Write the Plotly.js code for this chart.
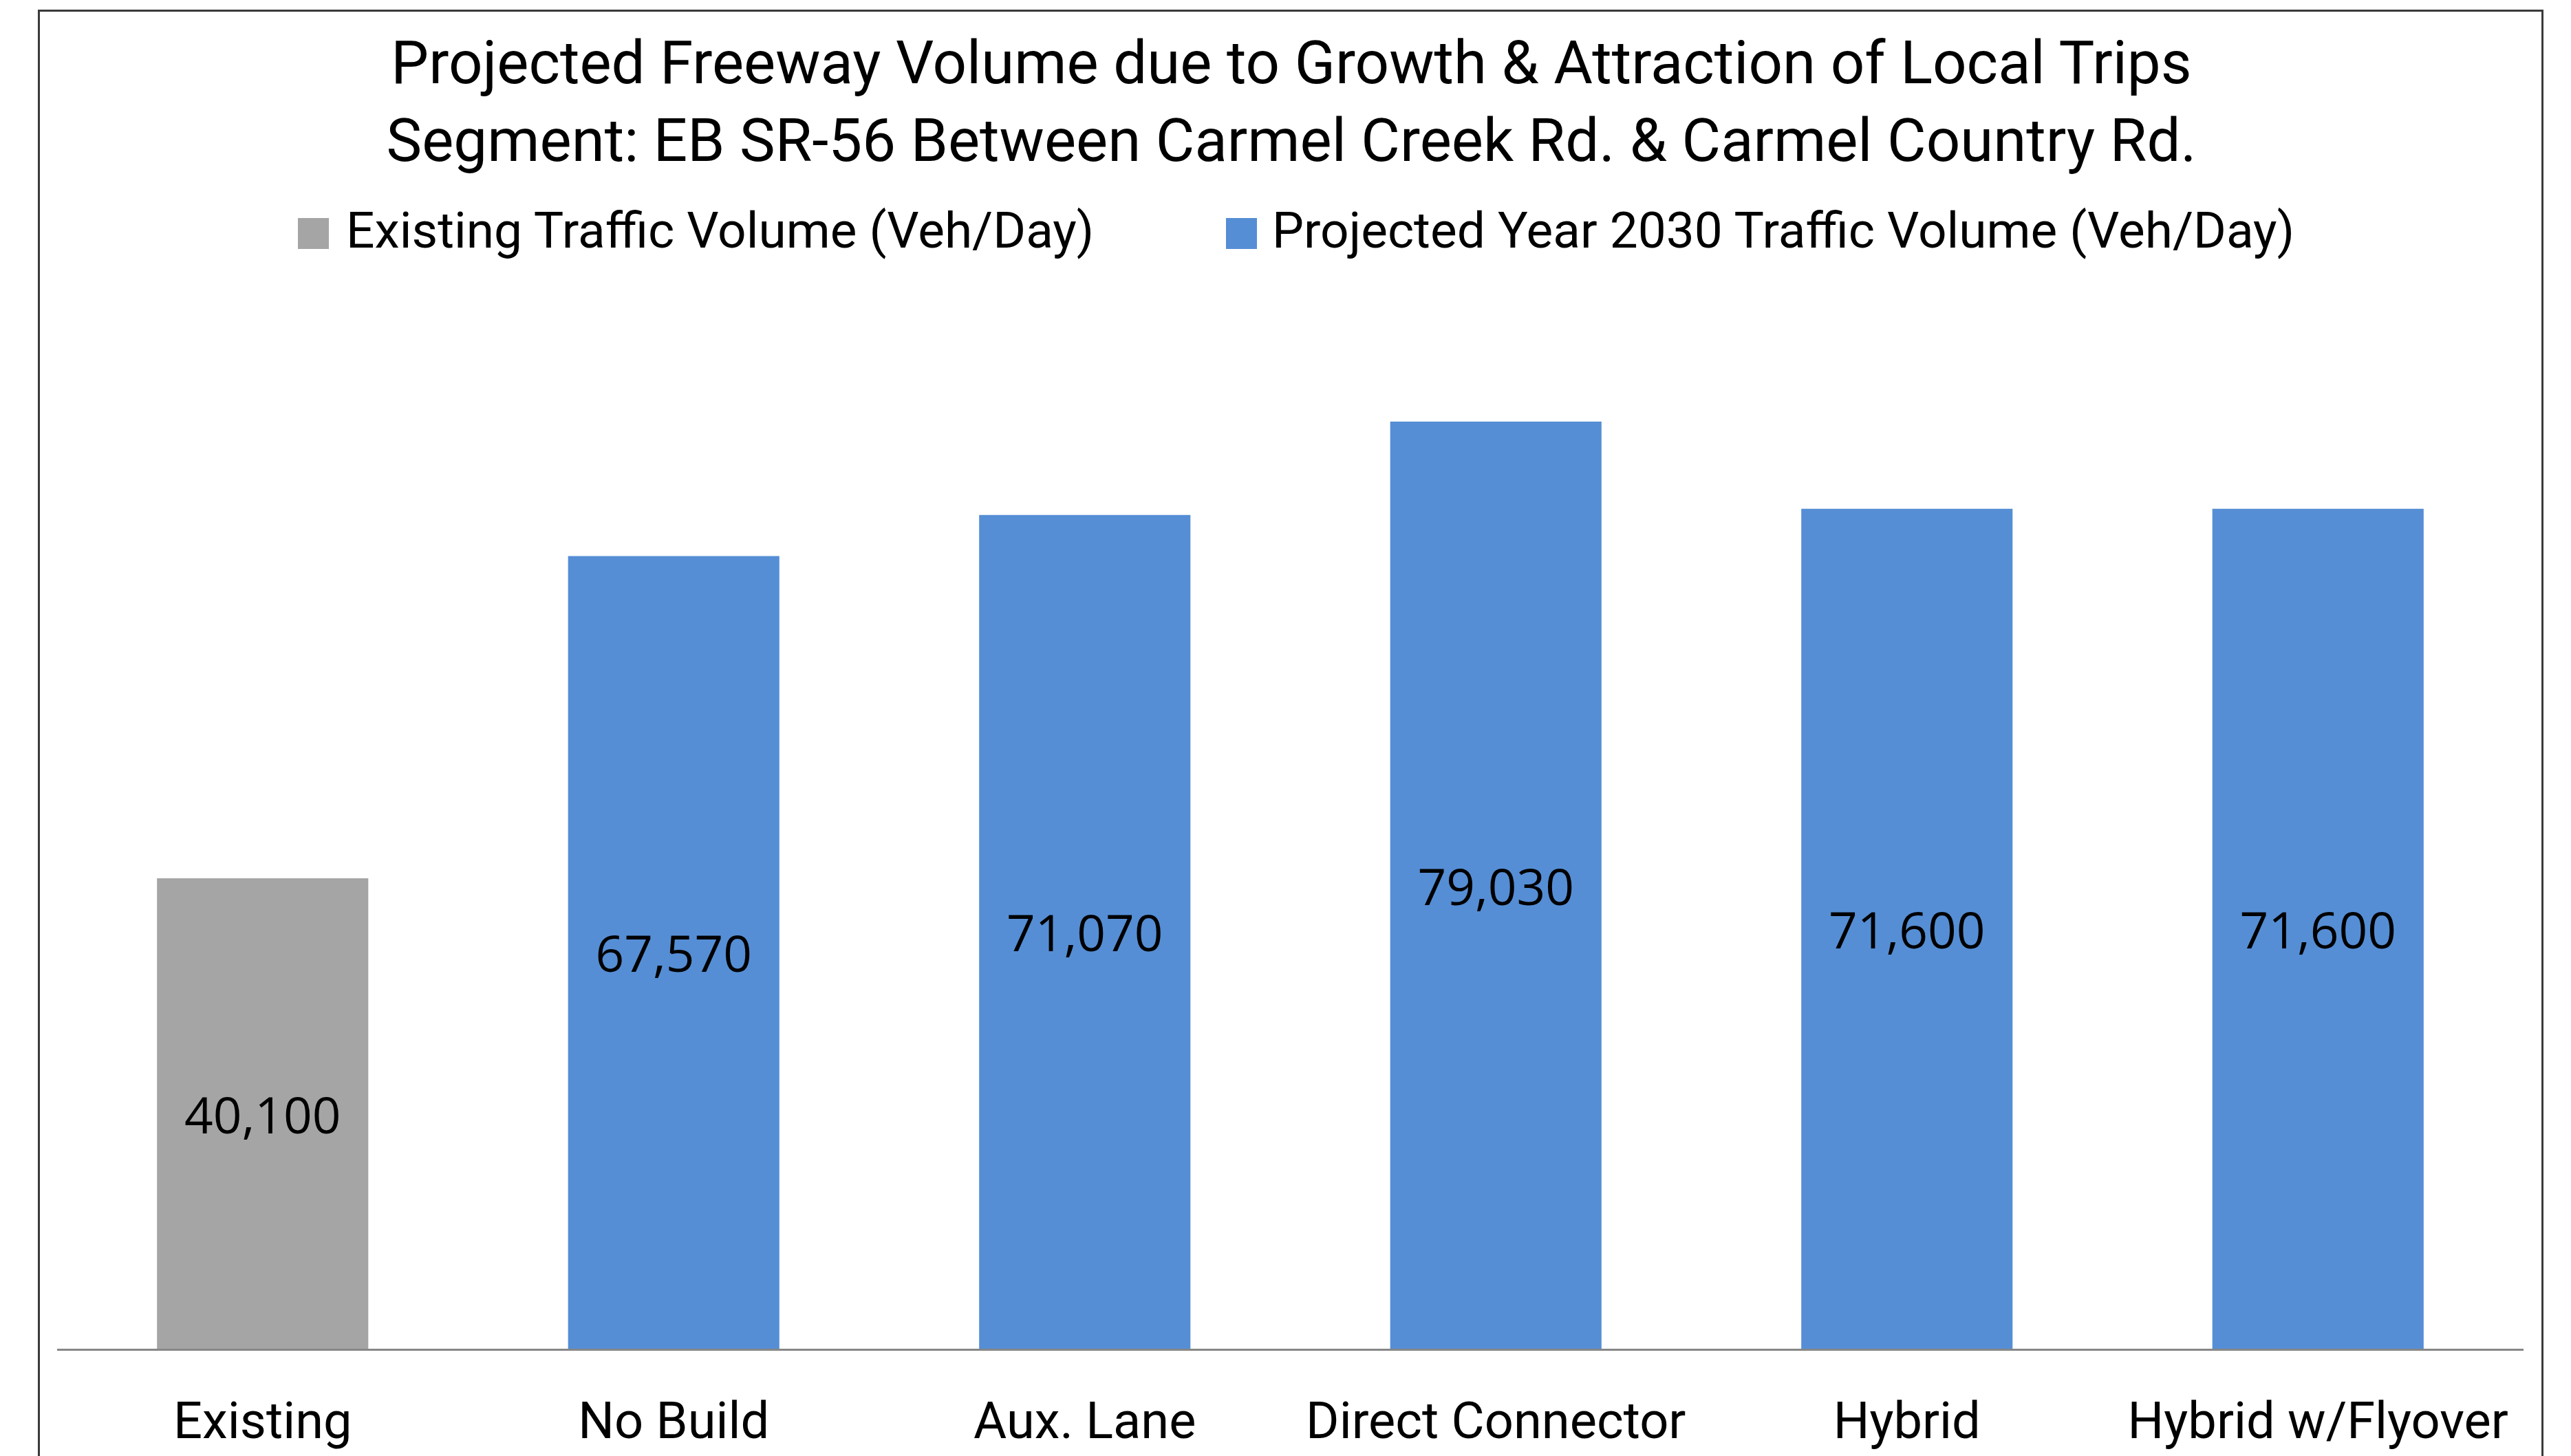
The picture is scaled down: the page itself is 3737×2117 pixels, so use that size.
<!DOCTYPE html>
<html>
<head>
<meta charset="utf-8">
<script src="https://cdn.plot.ly/plotly-3.0.1.min.js"></script>
<style>
  html, body { margin: 0; padding: 0; background: #ffffff; }
  #chart { width: 3737px; height: 2117px; position: relative; }
  #frame { position: absolute; left: 55px; top: 14px; width: 3642px; height: 2200px;
           border: 3px solid #3a3a3a; box-sizing: border-box; pointer-events: none; z-index: 10; }
</style>
</head>
<body>
<div id="chart"></div>
<div id="frame"></div>
<script>
// ---- data ----
const categories = ["Existing", "No Build", "Aux. Lane", "Direct Connector", "Hybrid", "Hybrid w/Flyover"];
const existingCategories = ["Existing"];
const existingValues = [40100];
const projectedCategories = ["No Build", "Aux. Lane", "Direct Connector", "Hybrid", "Hybrid w/Flyover"];
const projectedValues = [67570, 71070, 79030, 71600, 71600];
const seriesNames = ["Existing Traffic Volume (Veh/Day)", "Projected Year 2030 Traffic Volume (Veh/Day)"];
const seriesColors = ["#A5A5A5", "#558ED5"];
const titleLines = ["Projected Freeway Volume due to Growth & Attraction of Local Trips",
                    "Segment: EB SR-56 Between Carmel Creek Rd. & Carmel Country Rd."];

// ---- layout helpers (pixel -> paper) ----
const W = 3737, H = 2117;
const mL = 83, mR = W - 3668, mT = 420, mB = H - 1961;
const plotW = W - mL - mR, plotH = H - mT - mB;
const px2x = p => (p - mL) / plotW;
const px2y = p => (H - mB - p) / plotH;

const mainFont = "Roboto, 'Liberation Sans', Arial, sans-serif";
const labelFont = "'Open Sans', 'Noto Sans', sans-serif";

const labelStyle = {family: labelFont, size: 73, color: "#000000"};

const traces = [
  {
    type: "bar", name: seriesNames[0], x: existingCategories, y: existingValues,
    marker: {color: seriesColors[0]},
    texttemplate: "%{y:,}", textposition: "inside", insidetextanchor: "middle",
    textfont: labelStyle, insidetextfont: labelStyle, constraintext: "none",
    showlegend: false, hoverinfo: "skip"
  },
  {
    type: "bar", name: seriesNames[1], x: projectedCategories, y: projectedValues,
    marker: {color: seriesColors[1]},
    texttemplate: "%{y:,}", textposition: "inside", insidetextanchor: "middle",
    textfont: labelStyle, insidetextfont: labelStyle, constraintext: "none",
    showlegend: false, hoverinfo: "skip"
  }
];

// custom legend (large swatches like the reference)
const legendSwatches = [
  {x0: 433, x1: 478}, {x0: 1782, x1: 1827}
];
const legendTextX = [501, 1847];
const shapes = legendSwatches.map((s, i) => ({
  type: "rect", xref: "paper", yref: "paper",
  x0: px2x(s.x0), x1: px2x(s.x1), y0: px2y(362), y1: px2y(317),
  fillcolor: seriesColors[i], line: {width: 0}
}));
const annotations = seriesNames.map((n, i) => ({
  text: n, xref: "paper", yref: "paper", x: px2x(legendTextX[i]), y: px2y(335),
  xanchor: "left", yanchor: "middle", showarrow: false,
  font: {family: mainFont, size: 73, color: "#000000"}
}));

const layout = {
  width: W, height: H,
  paper_bgcolor: "#ffffff", plot_bgcolor: "#ffffff",
  margin: {l: mL, r: mR, t: mT, b: mB, pad: 0},
  title: {
    text: titleLines.join("<br>"),
    font: {family: mainFont, size: 87, color: "#000000"},
    x: 1877 / W, xref: "container", xanchor: "center",
    y: 1 - 121 / H, yref: "container", yanchor: "top"
  },
  barmode: "overlay",
  bargap: 0.486,
  xaxis: {
    type: "category", categoryorder: "array", categoryarray: categories,
    showline: true, linecolor: "#878787", linewidth: 3,
    ticks: "", showgrid: false, zeroline: false,
    tickfont: {family: mainFont, size: 74, color: "#000000"},
    ticklabelstandoff: 38
  },
  yaxis: {
    range: [0, plotH / (1348 / 79030)], visible: false, showgrid: false, zeroline: false, fixedrange: true
  },
  shapes: shapes,
  annotations: annotations,
  showlegend: false,
  hovermode: false
};

Plotly.newPlot("chart", traces, layout, {displayModeBar: false, staticPlot: true});
</script>
</body>
</html>
